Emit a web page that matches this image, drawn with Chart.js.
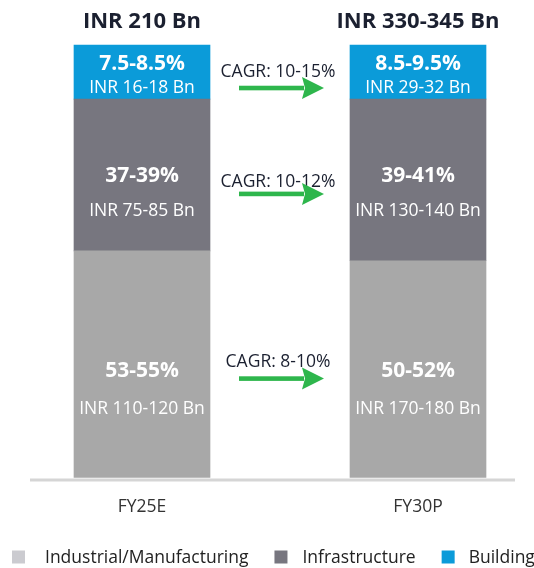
<!DOCTYPE html>
<html>
<head>
<meta charset="utf-8">
<script src="https://cdn.jsdelivr.net/npm/chart.js@4.4.1/dist/chart.umd.min.js"></script>
<style>
  html, body { margin: 0; padding: 0; background: #ffffff; }
  #wrap { width: 534px; height: 568px; position: relative; }
</style>
</head>
<body>
<div id="wrap"><canvas id="c"></canvas></div>
<script>
// ---- data ----
const categories = ['FY25E', 'FY30P'];
const seriesNames = ['Industrial/Manufacturing', 'Infrastructure', 'Building'];
const industrial = [52.4, 50.1];
const infrastructure = [35.1, 37.4];
const building = [12.5, 12.5];
const industrialShare = ['53-55%', '50-52%'];
const infrastructureShare = ['37-39%', '39-41%'];
const buildingShare = ['7.5-8.5%', '8.5-9.5%'];
const industrialValue = ['INR 110-120 Bn', 'INR 170-180 Bn'];
const infrastructureValue = ['INR 75-85 Bn', 'INR 130-140 Bn'];
const buildingValue = ['INR 16-18 Bn', 'INR 29-32 Bn'];
const totals = ['INR 210 Bn', 'INR 330-345 Bn'];
const cagr = ['CAGR: 8-10%', 'CAGR: 10-12%', 'CAGR: 10-15%'];

// ---- styles ----
const FONT = '"Open Sans", "Noto Sans", sans-serif';
const barColors = ['#a8a8a8', '#77767f', '#0b9bd9'];
const legendColors = ['#cbcbd0', '#77767f', '#0b9bd9'];
const legendGaps = [20, 15, 14];
const arrowColor = '#2eb64c';
const darkText = '#1b2030';

const shares = [industrialShare, infrastructureShare, buildingShare];
const values = [industrialValue, infrastructureValue, buildingValue];
const seriesData = [industrial, infrastructure, building];

function capText(ctx, text, x, capCenterY, size, weight, color) {
  ctx.font = weight + ' ' + size + 'px ' + FONT;
  ctx.fillStyle = color;
  ctx.textAlign = 'center';
  ctx.textBaseline = 'alphabetic';
  ctx.fillText(text, x, capCenterY + 0.357 * size);
}

const annotate = {
  id: 'annotate',
  afterDatasetsDraw(chart) {
    const ctx = chart.ctx;
    const yScale = chart.scales.y;
    ctx.save();
    const m0 = chart.getDatasetMeta(0).data;
    const leftBar = m0[0].getProps(['x', 'width'], true);
    const rightBar = m0[m0.length - 1].getProps(['x', 'width'], true);
    const gapL = leftBar.x + leftBar.width / 2;
    const gapR = rightBar.x - rightBar.width / 2;

    // baseline
    const base = yScale.getPixelForValue(0);
    ctx.strokeStyle = '#d5d5d5';
    ctx.lineWidth = 3;
    ctx.beginPath();
    ctx.moveTo(leftBar.x - leftBar.width / 2 - 44, base + 2.5);
    ctx.lineTo(rightBar.x + rightBar.width / 2 + 29, base + 2.5);
    ctx.stroke();

    // segment geometry: per series, average middle and height across bars
    const rows = seriesData.map((_, s) => {
      const pts = chart.getDatasetMeta(s).data.map(bar => bar.getProps(['x', 'y', 'base'], true));
      const mid = pts.reduce((a, p) => a + (p.y + p.base) / 2, 0) / pts.length;
      const h = pts.reduce((a, p) => a + Math.abs(p.base - p.y), 0) / pts.length;
      return { pts, mid, h };
    });

    rows.forEach((row, s) => {
      const compact = row.h < 80;
      const y1 = compact ? row.mid - 10 : row.mid + (row.h - 190) / 10;
      const y2 = compact ? row.mid + 14.5 : y1 + 31 + row.h * 0.03;
      row.pts.forEach((p, i) => {
        capText(ctx, shares[s][i], p.x, y1, 21, 'bold', '#ffffff');
        capText(ctx, values[s][i], p.x, y2, 17.5, 'normal', '#ffffff');
      });
    });

    // totals on top
    rows[rows.length - 1].pts.forEach((p, i) => {
      capText(ctx, totals[i], p.x, Math.min(p.y, p.base) - 25, 22, 'bold', darkText);
    });

    // CAGR arrows
    const cx = (gapL + gapR) / 2 + 1;
    const textOff = [-6, 3.5, -1];
    const arrowOff = [12, 16.5, 16];
    cagr.forEach((label, s) => {
      const mid = rows[s].mid;
      capText(ctx, label, cx - 3, mid + textOff[s], 17.5, 'normal', darkText);
      const ay = mid + arrowOff[s];
      const x0 = gapL + 29, x1 = gapR - 26;
      const headL = 22, headH = 11;
      ctx.fillStyle = arrowColor;
      ctx.fillRect(x0, ay - 2.3, (x1 - headL + 2) - x0, 4.6);
      ctx.beginPath();
      ctx.moveTo(x1, ay);
      ctx.lineTo(x1 - headL, ay - headH);
      ctx.lineTo(x1 - headL + 3, ay);
      ctx.lineTo(x1 - headL, ay + headH);
      ctx.closePath();
      ctx.fill();
    });

    // legend
    ctx.font = 'normal 17.5px ' + FONT;
    ctx.textAlign = 'left';
    ctx.textBaseline = 'alphabetic';
    let lx = 12;
    const ly = 557;
    seriesNames.forEach((name, s) => {
      ctx.fillStyle = legendColors[s];
      ctx.fillRect(lx, ly - 6.5, 13, 13);
      const tx = lx + 13 + legendGaps[s];
      ctx.fillStyle = '#222222';
      ctx.fillText(name, tx, ly + 0.357 * 17.5);
      lx = tx + ctx.measureText(name).width + 26;
    });
    ctx.restore();
  }
};

const chart = new Chart(document.getElementById('c'), {
  type: 'bar',
  data: {
    datasets: seriesNames.map((name, s) => ({
      label: name,
      data: seriesData[s].map((v, i) => ({ x: i, y: v })),
      backgroundColor: barColors[s],
      borderWidth: 0,
      barThickness: 136,
      clip: false
    }))
  },
  options: {
    responsive: true,
    maintainAspectRatio: false,
    animation: false,
    layout: { padding: { top: 45, bottom: 31.6, left: 0, right: 0 } },
    plugins: { legend: { display: false }, tooltip: { enabled: false } },
    scales: {
      x: {
        type: 'linear',
        stacked: true,
        offset: false,
        min: -0.5145,
        max: 1.4203,
        afterBuildTicks: (s) => { s.ticks = categories.map((_, i) => ({ value: i })); },
        ticks: {
          autoSkip: false,
          maxRotation: 0,
          padding: 19,
          color: '#333333',
          font: { family: FONT, size: 17.5 },
          callback: (v) => categories[v] !== undefined ? categories[v] : ''
        },
        grid: { display: false, drawTicks: false },
        border: { display: false }
      },
      y: {
        stacked: true,
        min: 0,
        max: 100,
        display: false
      }
    }
  },
  plugins: [annotate]
});
</script>
</body>
</html>
